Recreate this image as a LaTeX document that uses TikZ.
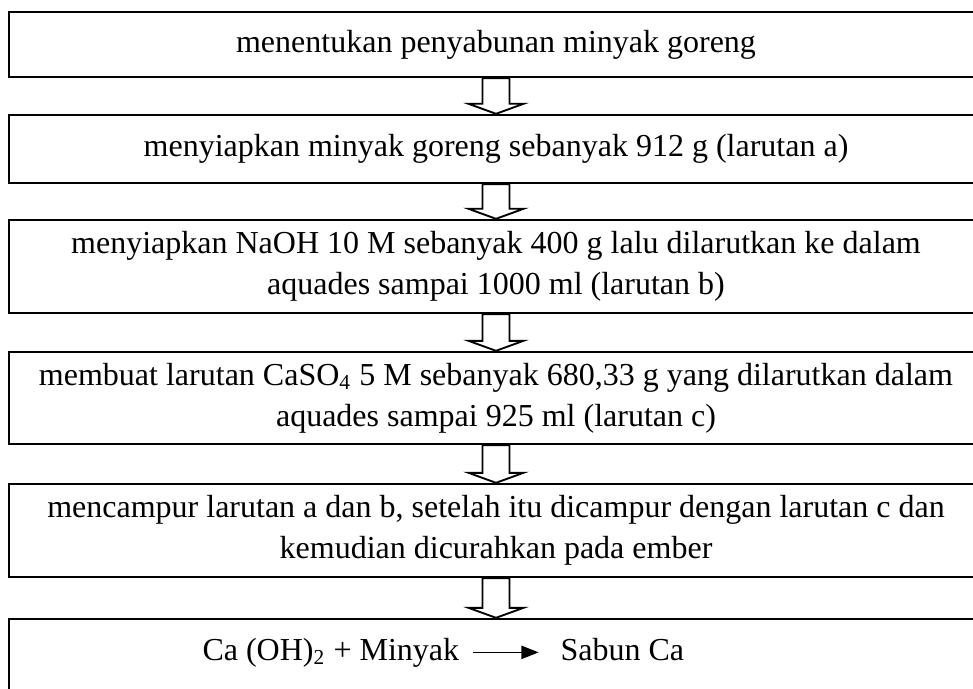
\documentclass[tikz,border=0pt]{standalone}
\usepackage{fontspec}
\setmainfont{Liberation Serif}
\usepackage{tikz}
\usetikzlibrary{arrows.meta, calc}

% hollow block arrow from the bottom of one box to the top of the next
\newcommand{\hollowdown}[2]{%
  \draw[hollow] ($(#1.south)+(-13.5,0)$) -- ($(#2.north)+(-13.5,-10)$)
    -- ++(-14,0) -- (#2.north) -- ($(#2.north)+(27.5,-10)$) -- ++(-14,0)
    -- ($(#1.south)+(13.5,0)$) -- cycle;}

\begin{document}
\begin{tikzpicture}[
  x=0.375pt, y=-0.375pt,
  font=\fontsize{12}{15.4}\selectfont,
  stepbox/.style={draw, line width=0.9pt, minimum width=365.25pt, align=center, inner sep=0pt},
  hollow/.style={draw, fill=white, line width=0.7pt, line join=miter},
  reaction/.style={-{Triangle[length=6.5pt, width=5pt]}, line width=0.5pt}
]
  \useasboundingbox (0,0) rectangle (973,688);
  \clip (0,0) rectangle (973,688);

  % Steps
  \node[stepbox, minimum height=24.375pt] (s1) at (496,44.5)
    {menentukan penyabunan minyak goreng};
  \node[stepbox, minimum height=25.5pt] (s2) at (496,149)
    {menyiapkan minyak goreng sebanyak 912 g (larutan a)};
  \node[stepbox, minimum height=34.875pt] (s3) at (496,266.5)
    {menyiapkan NaOH 10 M sebanyak 400 g lalu dilarutkan ke dalam\\
     aquades sampai 1000 ml (larutan b)};
  \node[stepbox, minimum height=34.5pt] (s4) at (496,398)
    {membuat larutan CaSO\textsubscript{4} 5 M sebanyak 680,33 g yang dilarutkan dalam\\
     aquades sampai 925 ml (larutan c)};
  \node[stepbox, minimum height=34.875pt] (s5) at (496,530.5)
    {mencampur larutan a dan b, setelah itu dicampur dengan larutan c dan\\
     kemudian dicurahkan pada ember};
  \node[stepbox, minimum height=30.375pt] (s6) at (496,659.5) {};

  % Reaction
  \node[anchor=base west, inner sep=0pt] (react) at (202,660) {Ca (OH)\textsubscript{2} + Minyak};
  \node[anchor=base west, inner sep=0pt] (prod) at (560,660) {Sabun Ca};
  \draw[reaction] ([xshift=4.9pt]react.east) -- ([xshift=-8pt]react.east -| prod.west);

  % Arrows
  \hollowdown{s1}{s2}
  \hollowdown{s2}{s3}
  \hollowdown{s3}{s4}
  \hollowdown{s4}{s5}
  \hollowdown{s5}{s6}
\end{tikzpicture}
\end{document}
